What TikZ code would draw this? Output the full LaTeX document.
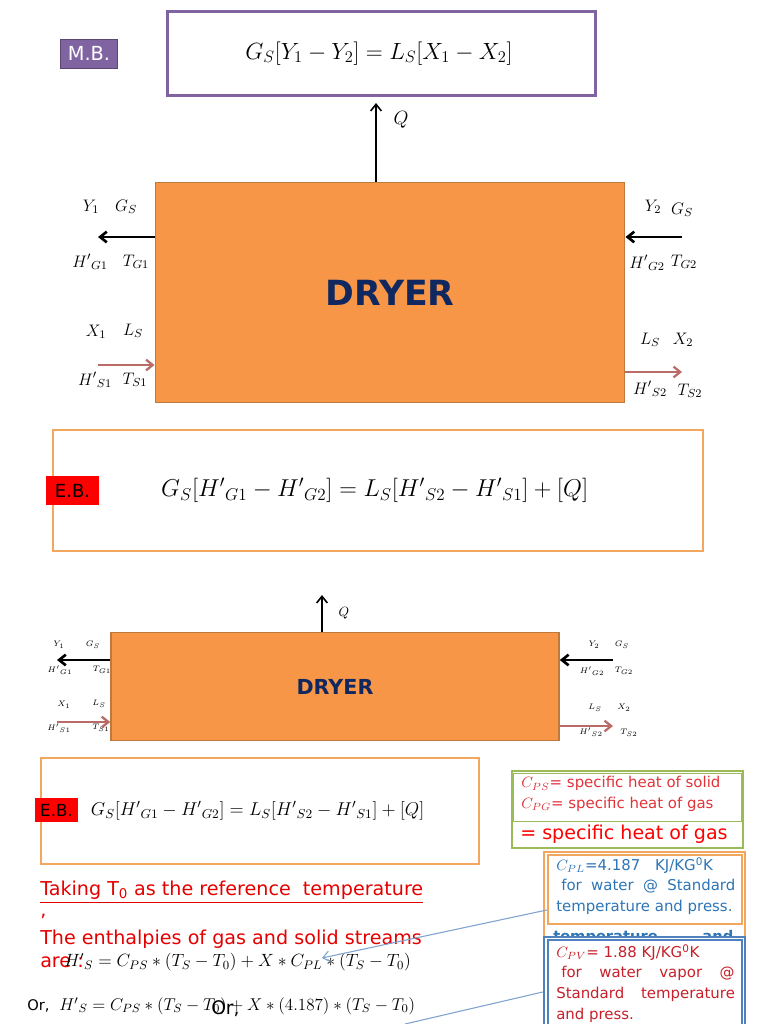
\documentclass[tikz,border=0pt]{standalone}
\usepackage{fix-cm}
\usepackage{amsmath, amssymb}
\usepackage{fontspec}
\setmainfont{DejaVu Sans}
\usepackage{tikz}
\usetikzlibrary{arrows.meta, positioning, calc}
\definecolor{mbpurple}{HTML}{8064A2}
\definecolor{dryerfill}{HTML}{F79646}
\definecolor{dryerline}{HTML}{BE7A3C}
\definecolor{ebline}{HTML}{F2A65E}
\definecolor{dryertext}{HTML}{10285F}
\definecolor{streamred}{HTML}{B96B68}
\definecolor{notegreen}{HTML}{9BBB59}
\definecolor{noteblue}{HTML}{2E75B6}
\definecolor{boxblue}{HTML}{4F81BD}
\definecolor{leaderblue}{HTML}{7FA3CF}
\definecolor{notered}{HTML}{C8202A}
\definecolor{notelight}{HTML}{E2323A}
\newcommand{\Hp}[1]{{H'}_{#1}}

\begin{document}
\begin{tikzpicture}[x=0.75pt, y=-0.75pt,
    % Equation boxes and their tags
    eqbox/.style={draw, line width=1.6pt, fill=white, font=\fontsize{17.6}{21}\selectfont},
    mbbox/.style={eqbox, draw=mbpurple},
    ebbox/.style={eqbox, draw=ebline},
    tag/.style={minimum height=22pt, inner sep=0pt, font=\fontsize{13.5}{16}\selectfont},
    % Dryers and streams
    dryer/.style={draw=dryerline, line width=1.2pt, fill=dryerfill, text=dryertext, font=\bfseries},
    lab/.style={font=\fontsize{12.5}{15}\selectfont, inner sep=0pt},
    slab/.style={font=\fontsize{6}{7}\selectfont, inner sep=0pt},
    gas/.style={-{Straight Barb[length=5pt, width=8pt]}, line width=2pt},
    solid/.style={-{Straight Barb[length=5pt, width=8pt]}, line width=1.7pt, draw=streamred},
    heat/.style={-{Straight Barb[length=5pt, width=8pt]}, line width=1.2pt},
    % Notes on the lower right
    notebox/.style={draw, line width=1.7pt, fill=white, inner sep=0pt},
    notetxt/.style={inner sep=0pt, align=left, font=\fontsize{11.2}{15.4}\selectfont},
    redtxt/.style={text=red!90!black, inner sep=0pt, anchor=west, font=\fontsize{14.35}{17}\selectfont},
    leader/.style={draw=leaderblue, line width=0.8pt}]

\clip (0,0) rectangle (768,1024);
\fill[white] (0,0) rectangle (768,1024);

% Mass balance
\node[mbbox, minimum width=321pt, minimum height=63pt] (mbeq) at (381.5,53.5) {\raisebox{-2.5pt}{$G_S[Y_1-Y_2]=L_S[X_1-X_2]$}\hspace*{4pt}};
\node[tag, fill=mbpurple, draw=mbpurple!70!black, text=white, minimum width=43pt, font=\fontsize{14.5}{16}\selectfont] (mbtag) at (89,53.5) {M.B.};

% Stream labels of the large dryer
\node[lab] (y1) at (91,207) {$Y_1$};
\node[lab] (gs1) at (126,207) {$G_S$};
\node[lab] (hg1) at (90,262) {$\Hp{G1}$};
\node[lab] (tg1) at (136,262) {$T_{G1}$};
\node[lab] (y2) at (653,207) {$Y_2$};
\node[lab] (gs2) at (682,210) {$G_S$};
\node[lab] (hg2) at (647,263) {$\Hp{G2}$};
\node[lab] (tg2) at (684,262) {$T_{G2}$};
\node[lab] (x1) at (96,332) {$X_1$};
\node[lab] (ls1) at (133,331) {$L_S$};
\node[lab] (hs1) at (95,380) {$\Hp{S1}$};
\node[lab] (ts1) at (135,380) {$T_{S1}$};
\node[lab] (ls2) at (650,340) {$L_S$};
\node[lab] (x2) at (683,340) {$X_2$};
\node[lab] (hs2) at (650,389) {$\Hp{S2}$};
\node[lab] (ts2) at (690,391) {$T_{S2}$};

% Large dryer
\node[dryer, minimum width=352pt, minimum height=165pt, font=\bfseries\fontsize{26}{30}\selectfont] (dry) at (390,292.5) {DRYER};
\coordinate (qtop) at (376,103);
\coordinate (gout) at (98,237);
\coordinate (gin) at (682,237);
\coordinate (sin) at (98,365);
\coordinate (sout) at (682,372);
\draw[heat] (dry.north -| qtop) -- (qtop);
\draw[gas] (dry.west |- gout) -- (gout);
\draw[gas] (gin) -- (dry.east |- gin);
\draw[solid] (sin) -- (dry.west |- sin);
\draw[solid] (dry.east |- sout) -- (sout);
\node[lab, font=\fontsize{14.4}{17}\selectfont] (q) at (401,120) {$Q$};

% Energy balance
\node[ebbox, minimum width=488pt, minimum height=91pt, font=\fontsize{18.3}{22}\selectfont] (ebeq) at (378,490.5) {\raisebox{-1pt}{$G_S[\Hp{G1}-\Hp{G2}]=L_S[\Hp{S2}-\Hp{S1}]+[Q]$}\hspace*{5pt}};
\node[tag, fill=red, minimum width=40pt] (ebtag) at (72.5,490.5) {E.B.};

% Stream labels of the small dryer
\node[slab] (sy1) at (59,645) {$Y_1$};
\node[slab] (sgs1) at (93,645) {$G_S$};
\node[slab] (shg1) at (60,670) {$\Hp{G1}$};
\node[slab] (stg1) at (102,670) {$T_{G1}$};
\node[slab] (sy2) at (594,645) {$Y_2$};
\node[slab] (sgs2) at (622,645) {$G_S$};
\node[slab] (shg2) at (592,671) {$\Hp{G2}$};
\node[slab] (stg2) at (624,671) {$T_{G2}$};
\node[slab] (sx1) at (64,705) {$X_1$};
\node[slab] (sls1) at (99,704) {$L_S$};
\node[slab] (shs1) at (59,728) {$\Hp{S1}$};
\node[slab] (sts1) at (101,728) {$T_{S1}$};
\node[slab] (sls2) at (595,708) {$L_S$};
\node[slab] (sx2) at (624,708) {$X_2$};
\node[slab] (shs2) at (591,732) {$\Hp{S2}$};
\node[slab] (sts2) at (629,733) {$T_{S2}$};

% Small dryer
\node[dryer, minimum width=336pt, minimum height=81pt, font=\bfseries\fontsize{15.5}{18}\selectfont] (sdry) at (335,686.5) {\raisebox{-1pt}{DRYER}};
\coordinate (sqtop) at (322,595);
\coordinate (sgout) at (57,660);
\coordinate (sgin) at (613,660);
\coordinate (ssin) at (57,722);
\coordinate (ssout) at (613,726);
\draw[heat] (sdry.north -| sqtop) -- (sqtop);
\draw[gas] (sdry.west |- sgout) -- (sgout);
\draw[gas] (sgin) -- (sdry.east |- sgin);
\draw[solid] (ssin) -- (sdry.west |- ssin);
\draw[solid] (sdry.east |- ssout) -- (ssout);
\node[slab, font=\fontsize{10}{12}\selectfont] (sq) at (344,613) {$Q$};

% Second energy balance
\node[ebbox, minimum width=329pt, minimum height=79pt, font=\fontsize{13.9}{16}\selectfont] (ebeq2) at (260,811) {$G_S[\Hp{G1}-\Hp{G2}]=L_S[\Hp{S2}-\Hp{S1}]+[Q]$\hspace*{3.5pt}};
\node[tag, fill=red, minimum width=32pt, minimum height=18pt, font=\fontsize{12.5}{14}\selectfont] (ebtag2) at (56.5,810) {E.B.};

% Red text and enthalpy lines
\node[redtxt] (taking) at (40,892) {\textcolor{red!90!black}{\underline{Taking T\textsubscript{0} as the reference\ \ temperature}}};
\node[redtxt] (comma) at (40,916) {,};
\node[redtxt] (enth) at (40,939) {The enthalpies of gas and solid streams};
\node[redtxt] (are) at (40,962) {are :};
\node[anchor=west, inner sep=0pt, font=\fontsize{13.3}{15}\selectfont] (hs) at (64,962) {$\Hp{S}=C_{PS}*(T_S-T_0)+X*C_{PL}*(T_S-T_0)$};
\node[anchor=west, inner sep=0pt, font=\fontsize{11}{13}\selectfont] (or) at (27,1006) {Or,};
\node[anchor=west, inner sep=0pt, font=\fontsize{12.8}{15}\selectfont] (hs2nd) at (59,1006) {$\Hp{S}=C_{PS}*(T_S-T_0)+X*(4.187)*(T_S-T_0)$};
\node[anchor=west, inner sep=0pt, font=\fontsize{14}{16}\selectfont] (orbig) at (211,1009) {Or,};

% Notes
\node[notebox, draw=notegreen, minimum width=173pt, minimum height=58pt] (green) at (627.5,809.5) {};
\node[notebox, draw=notegreen, line width=1.1pt, minimum width=172pt, minimum height=36pt, anchor=north] (gtop) at (627.5,773) {};
\node[notetxt, text=notelight, anchor=west] (gtxt) at (521,794) {$C_{PS}$= specific heat of solid\\$C_{PG}$= specific heat of gas};
\node[notetxt, text=red, anchor=west, font=\fontsize{14.3}{16}\selectfont] (gtxt2) at (520,834) {= specific heat of gas};

\node[notebox, draw=ebline, minimum width=151pt, minimum height=90pt, anchor=north] (orange) at (644.5,851) {};
\node[notebox, draw=ebline, line width=1.4pt, minimum width=146pt, minimum height=52pt, anchor=north] (otop) at (645,854) {};
\node[notetxt, text=noteblue, anchor=north west] (otxt) at (556,857) {$C_{PL}$=4.187\quad KJ/KG\textsuperscript{0}K\\\hspace*{3.75pt}\makebox[130.5pt][s]{for\hfill water\hfill @\hfill Standard}\\temperature and press.};
\node[notetxt, text=noteblue, anchor=west, font=\bfseries\fontsize{11}{13}\selectfont] (ohid) at (553,937) {\makebox[135pt][s]{temperature\hfill and}};

\node[notebox, draw=boxblue, minimum width=151pt, minimum height=80pt, anchor=north] (blue) at (644.5,936) {};
\node[notebox, draw=boxblue, line width=1.4pt, minimum width=146pt, minimum height=80pt, anchor=north] (btop) at (645,939) {};
\node[notetxt, text=notered, anchor=north west] (btxt) at (556,944) {$C_{PV}$= 1.88 KJ/KG\textsuperscript{0}K\\\hspace*{3.75pt}\makebox[130pt][s]{for\hfill water\hfill vapor\hfill @}\\\makebox[134pt][s]{Standard\hfill temperature}\\and press.};

% Leader lines
\coordinate (cpltip) at (322,958);
\coordinate (cpvend) at (405,1024);
\draw[leader, -{Straight Barb[length=5pt, width=8pt]}] (otop.west |- 0,910) -- (cpltip);
\draw[leader] (blue.west |- 0,992) -- (cpvend);

\end{tikzpicture}
\end{document}
